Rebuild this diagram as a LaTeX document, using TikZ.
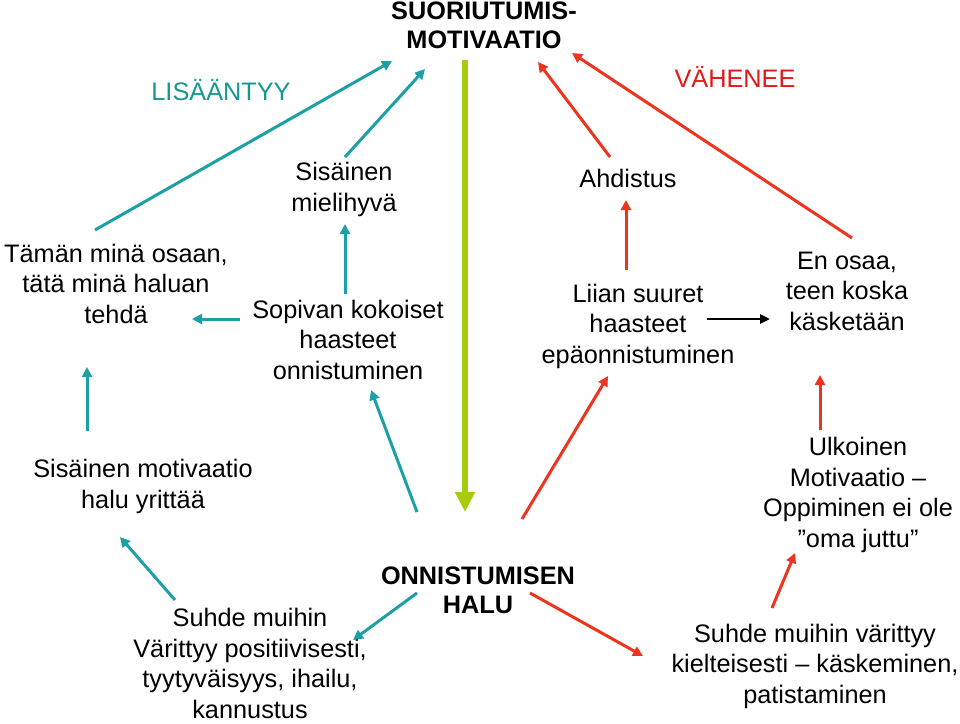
\documentclass[tikz,border=0pt]{standalone}
\usepackage{fontspec}
\setmainfont{Liberation Sans}
\usetikzlibrary{arrows.meta}
\definecolor{tealline}{RGB}{28,160,166}
\definecolor{tealtext}{RGB}{20,152,145}
\definecolor{redline}{RGB}{236,52,30}
\definecolor{redtext}{RGB}{222,26,24}
\definecolor{greenline}{RGB}{166,204,14}
\tikzset{
  lbl/.style={align=center, inner sep=0pt, anchor=base, font=\fontsize{25.3}{30.5}\selectfont},
  blbl/.style={lbl, font=\fontsize{25.3}{29}\selectfont\bfseries},
  tealarrow/.style={draw=tealline, line width=3pt, -{Triangle[length=10pt,width=10pt]}},
  redarrow/.style={draw=redline, line width=3pt, -{Triangle[length=10pt,width=10pt]}},
  blackarrow/.style={draw=black, line width=2.6pt, -{Triangle[length=10pt,width=9pt]}},
  greenarrow/.style={draw=greenline, line width=6.5pt, -{Triangle[length=20pt,width=19pt]}}
}
\begin{document}
\begin{tikzpicture}[x=1pt,y=-1pt]
\useasboundingbox[fill=white] (0,0) rectangle (960,723);
% nodes (placed at last-line baseline)
\node[blbl] (A) at (484,48) {SUORIUTUMIS-\\MOTIVAATIO};
\node[lbl, text=tealtext] (B) at (221,100) {LISÄÄNTYY};
\node[lbl, text=redtext] (C) at (735,87) {VÄHENEE};
\node[lbl] (D) at (344,211) {Sisäinen\\mielihyvä};
\node[lbl] (E) at (116,323) {Tämän minä osaan,\\tätä minä haluan\\tehdä};
\node[lbl] (F) at (348,379) {Sopivan kokoiset\\haasteet\\onnistuminen};
\node[lbl] (G) at (628,187) {Ahdistus};
\node[lbl] (H) at (638,363) {Liian suuret\\haasteet\\epäonnistuminen};
\node[lbl] (I) at (847,330) {En osaa,\\teen koska\\käsketään};
\node[lbl] (J) at (143,508) {Sisäinen motivaatio\\halu yrittää};
\node[lbl] (K) at (250,718) {Suhde muihin\\Värittyy positiivisesti,\\tyytyväisyys, ihailu,\\kannustus};
\node[blbl] (L) at (478,613) {ONNISTUMISEN\\HALU};
\node[lbl] (M) at (858,547) {Ulkoinen\\Motivaatio --\\Oppiminen ei ole\\”oma juttu”};
\node[lbl] (N) at (815,703) {Suhde muihin värittyy\\kielteisesti -- käskeminen,\\patistaminen};
% teal connectors
\draw[tealarrow] ([shift={(-21,-93)}]E.base) -- ([shift={(-92,13)}]A.base);
\draw[tealarrow] ([shift={(1,-54)}]D.base) -- ([shift={(-59,21)}]A.base);
\draw[tealarrow] ([shift={(-3,-85)}]F.base) -- ([shift={(1,13)}]D.base);
\draw[tealarrow] ([shift={(-108,-60)}]F.base) -- ([shift={(76,-4)}]E.base);
\draw[tealarrow] ([shift={(-56,-77)}]J.base) -- ([shift={(-29,44)}]E.base);
\draw[tealarrow] ([shift={(-61,-101)}]L.base) -- ([shift={(23,11)}]F.base);
\draw[tealarrow] ([shift={(-75,-118)}]K.base) -- ([shift={(-23,29)}]J.base);
\draw[tealarrow] ([shift={(-61,-20)}]L.base) -- ([shift={(103,-78)}]K.base);
% green connector
\draw[greenarrow] ([shift={(-19,12)}]A.base) -- ([shift={(-13,-101)}]L.base);
% red connectors
\draw[redarrow] ([shift={(-12,-93)}]H.base) -- ([shift={(-2,13)}]G.base);
\draw[redarrow] ([shift={(-18,-30)}]G.base) -- ([shift={(54,14)}]A.base);
\draw[redarrow] ([shift={(5,-92)}]I.base) -- ([shift={(88,5)}]A.base);
\draw[redarrow] ([shift={(-38,-117)}]M.base) -- ([shift={(-27,45)}]I.base);
\draw[redarrow] ([shift={(-43,-95)}]N.base) -- ([shift={(-63,6)}]M.base);
\draw[redarrow] ([shift={(52,-20)}]L.base) -- ([shift={(-172,-47)}]N.base);
\draw[redarrow] ([shift={(44,-94)}]L.base) -- ([shift={(-30,13)}]H.base);
% black connector
\draw[blackarrow] ([shift={(69,-44)}]H.base) -- ([shift={(-77,-11)}]I.base);
\end{tikzpicture}
\end{document}
